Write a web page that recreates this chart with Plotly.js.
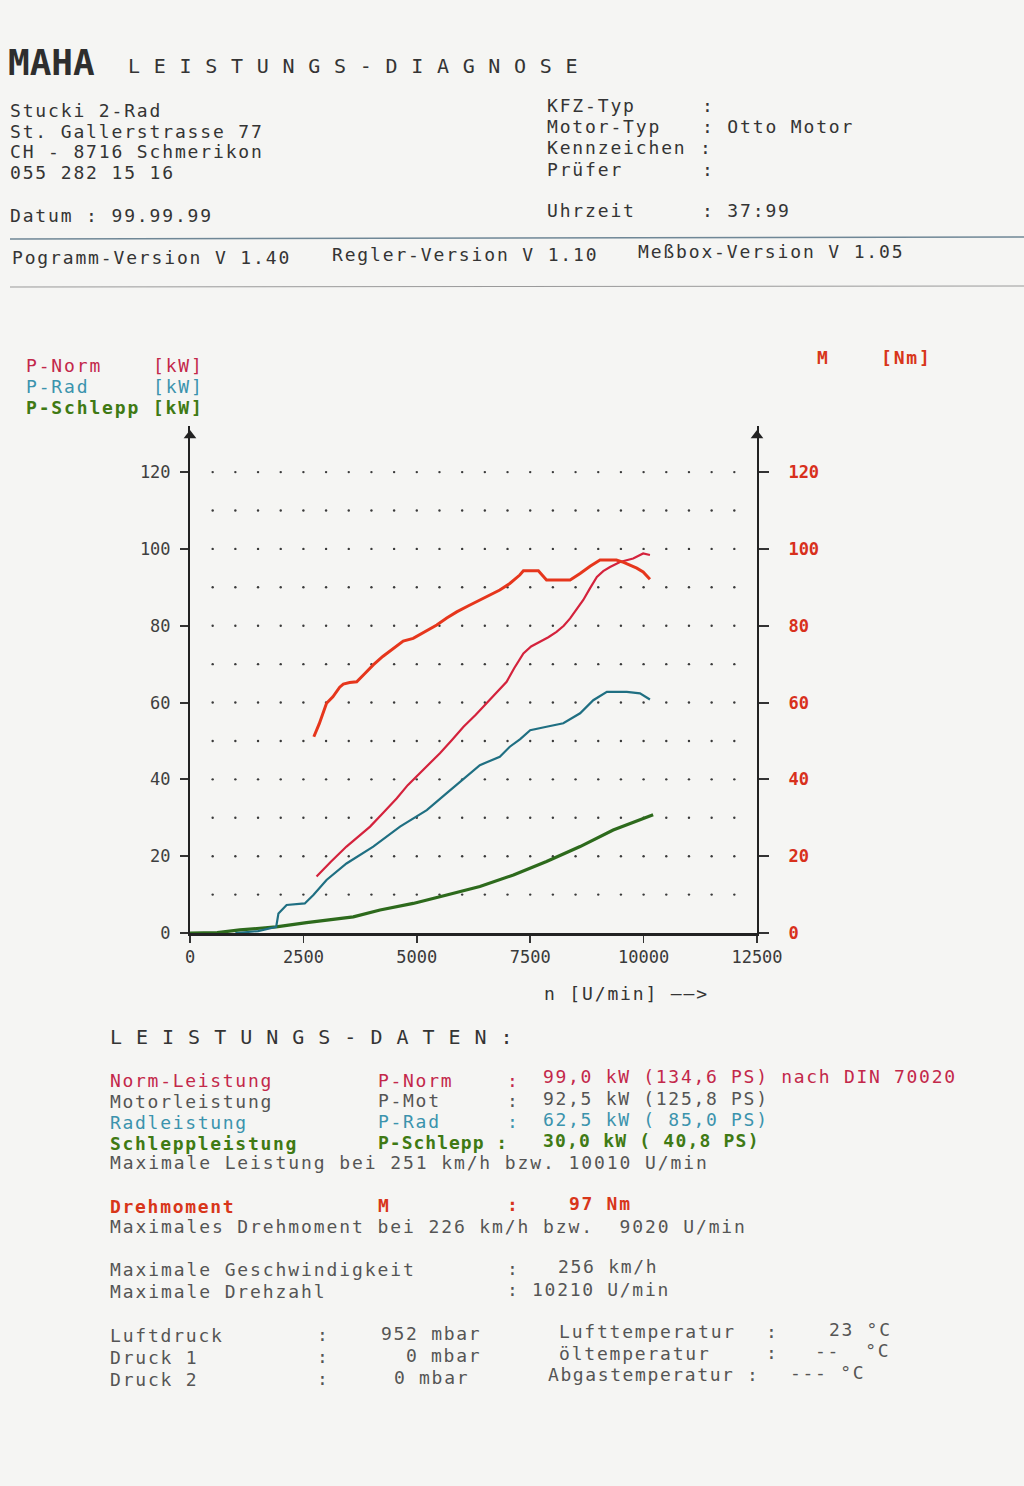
<!DOCTYPE html>
<html>
<head>
<meta charset="utf-8">
<script src="https://cdn.plot.ly/plotly-3.0.1.min.js"></script>
<style>
html,body{margin:0;padding:0;background:#f5f5f3;}
#chart{width:1024px;height:1486px;}
</style>
</head>
<body>
<div id="chart"></div>
<script>
// ---------------- DATA ----------------
var xTicks = [0, 2500, 5000, 7500, 10000, 12500];
var yTicks = [0, 20, 40, 60, 80, 100, 120];

// Torque M [Nm]
var mRpm = [2730, 2850, 3010, 3150, 3300, 3380, 3520, 3675, 3850, 4040, 4250, 4480, 4700, 4920, 5180, 5440, 5660, 5880, 6140, 6390, 6600, 6830, 7050, 7270, 7350, 7680, 7860, 8100, 8380, 8600, 8820, 9040, 9400, 9560, 9700, 9850, 9990, 10140];
var mVal = [51.1, 54.5, 59.8, 61.5, 64.0, 64.8, 65.2, 65.4, 67.5, 69.8, 72.0, 74.1, 76.0, 76.7, 78.5, 80.2, 82.0, 83.6, 85.2, 86.7, 87.8, 89.3, 91.0, 93.2, 94.3, 94.3, 91.9, 91.9, 91.9, 93.6, 95.5, 97.1, 97.1, 96.5, 95.8, 95.0, 94.0, 92.1];

// P-Norm [kW]
var normRpm = [2790, 3100, 3450, 3700, 3970, 4250, 4560, 4800, 5070, 5300, 5510, 5770, 6030, 6300, 6540, 6760, 6980, 7150, 7350, 7520, 7720, 7900, 8080, 8240, 8380, 8520, 8670, 8820, 8970, 9110, 9260, 9480, 9770, 9990, 10140];
var normVal = [14.7, 18.5, 22.5, 25.0, 27.7, 31.2, 35.1, 38.5, 41.6, 44.3, 46.8, 50.2, 53.7, 56.8, 59.8, 62.8, 65.4, 69.0, 72.8, 74.6, 75.8, 77.0, 78.4, 80.0, 81.9, 84.2, 86.7, 89.8, 92.7, 94.2, 95.3, 96.6, 97.5, 98.8, 98.4];

// P-Rad [kW]
var radRpm = [1000, 1500, 1900, 1950, 2130, 2530, 2720, 3010, 3450, 4040, 4630, 5220, 5660, 6100, 6390, 6830, 7050, 7280, 7500, 7860, 8230, 8600, 8890, 9190, 9630, 9920, 10140];
var radVal = [0, 0.5, 1.6, 5.1, 7.3, 7.7, 9.9, 13.8, 18.1, 22.5, 27.7, 32.0, 36.4, 40.7, 43.7, 45.9, 48.5, 50.5, 52.8, 53.7, 54.6, 57.2, 60.6, 62.8, 62.8, 62.4, 60.8];

// P-Schlepp [kW]
var schRpm = [0, 600, 1100, 1900, 2570, 3090, 3600, 4190, 4920, 5660, 6390, 7130, 7860, 8600, 9330, 10210];
var schVal = [0, 0.1, 0.8, 1.6, 2.7, 3.4, 4.2, 6.0, 7.7, 9.9, 12.1, 15.1, 18.6, 22.5, 26.8, 30.8];

// ---------------- STYLE ----------------
var MONO = 'DejaVu Sans Mono, Liberation Mono, monospace';
var C_NORM = '#d4223c', C_RAD = '#1f6f82', C_SCH = '#2d6a1c', C_M = '#e6361c';
var T_NORM = '#c3284a', T_RAD = '#3b93ad', T_SCH = '#3f7a14', T_M = '#d8361a';
var INK = '#343434', GREY = '#555555';

// plot area in page pixels
var PL = 190, PR = 757, PT = 426, PB = 933;
function px2x(px){ return (px - PL) / (PR - PL); }
function py2y(py){ return (PB - py) / (PB - PT); }

var annotations = [];
function T(px, py, text, color, size, spacing, bold){
  var inner = '<span style="letter-spacing:' + spacing + 'px">' + text + '</span>';
  annotations.push({
    xref:'paper', yref:'paper', x:px2x(px), y:py2y(py),
    xanchor:'left', yanchor:'middle', align:'left', showarrow:false,
    text: inner,
    font:{family:MONO, size:size, color:color, weight: bold ? 'bold' : 'normal'}
  });
}
var S = 18, LS = 1.85;

// Logo + title
annotations.push({xref:'paper', yref:'paper', x:px2x(6), y:py2y(62), xanchor:'left', yanchor:'middle',
  showarrow:false, text:'MAHA', font:{family:MONO, size:36, color:'#2e2e2e', weight:'bold'}});
T(126, 66, 'LEISTUNGS-DIAGNOSE', INK, 20, 13.7, false);

// header left
T(8, 111, 'Stucki 2-Rad', INK, S, LS);
T(8, 132, 'St. Gallerstrasse 77', INK, S, LS);
T(8, 152, 'CH - 8716 Schmerikon', INK, S, LS);
T(8, 173, '055 282 15 16', INK, S, LS);
T(8, 215, 'Datum : 99.99.99', INK, S, LS);

// header right
T(545, 105, 'KFZ-Typ', INK, S, LS);      T(700, 105, ':', INK, S, LS);
T(545, 126, 'Motor-Typ', INK, S, LS);    T(700, 126, ': Otto Motor', INK, S, LS);
T(545, 147, 'Kennzeichen', INK, S, LS);  T(698, 147, ':', INK, S, LS);
T(545, 169, 'Prüfer', INK, S, LS);       T(700, 169, ':', INK, S, LS);
T(545, 210, 'Uhrzeit', INK, S, LS);      T(700, 210, ': 37:99', INK, S, LS);

// version line
T(10, 257, 'Pogramm-Version V 1.40', INK, S, LS);
T(330, 254, 'Regler-Version V 1.10', INK, S, LS);
T(636, 251, 'Meßbox-Version V 1.05', INK, S, LS);

// chart legend
T(24, 365, 'P-Norm', T_NORM, S, LS);   T(151, 365, '[kW]', T_NORM, S, LS);
T(24, 386, 'P-Rad', T_RAD, S, LS);     T(151, 386, '[kW]', T_RAD, S, LS);
T(24, 407, 'P-Schlepp [kW]', T_SCH, S, LS, true);
T(815, 357, 'M', T_M, S, LS, true);    T(879, 357, '[Nm]', T_M, S, LS, true);

// x axis title
T(542, 993, 'n [U/min] ——&gt;', INK, S, LS);

// data block
T(108, 1037, 'LEISTUNGS-DATEN:', INK, 20, 14.0, false);

T(108, 1080, 'Norm-Leistung', T_NORM, S, 1.7);
T(376, 1080, 'P-Norm', T_NORM, S, 1.7);
T(505, 1080, ':', T_NORM, S, 1.7);
T(541, 1076, '99,0 kW (134,6 PS) nach DIN 70020', T_NORM, S, 1.7);

T(108, 1101, 'Motorleistung', GREY, S, 1.7);
T(376, 1100, 'P-Mot', GREY, S, 1.7);
T(505, 1100, ':', GREY, S, 1.7);
T(541, 1098, '92,5 kW (125,8 PS)', GREY, S, 1.7);

T(108, 1122, 'Radleistung', T_RAD, S, 1.7);
T(376, 1121, 'P-Rad', T_RAD, S, 1.7);
T(505, 1121, ':', T_RAD, S, 1.7);
T(541, 1119, '62,5 kW ( 85,0 PS)', T_RAD, S, 1.7);

T(108, 1143, 'Schleppleistung', T_SCH, S, 1.7, true);
T(376, 1142, 'P-Schlepp :', T_SCH, S, 1.0, true);
T(541, 1140, '30,0 kW ( 40,8 PS)', T_SCH, S, 1.2, true);

T(108, 1162, 'Maximale Leistung bei 251 km/h bzw. 10010 U/min', GREY, S, 1.9);

T(108, 1206, 'Drehmoment', T_M, S, 1.7, true);
T(376, 1205, 'M', T_M, S, 1.7, true);
T(505, 1204, ':', T_M, S, 1.7, true);
T(567, 1203, '97 Nm', T_M, S, 1.7, true);
T(108, 1226, 'Maximales Drehmoment bei 226 km/h bzw.\u00A0 9020 U/min', GREY, S, 1.9);

T(108, 1269, 'Maximale Geschwindigkeit', GREY, S, 1.9);
T(505, 1268, ':', GREY, S, 1.7);
T(556, 1266, '256 km/h', GREY, S, 1.7);
T(108, 1291, 'Maximale Drehzahl', GREY, S, 1.9);
T(505, 1289, ': 10210 U/min', GREY, S, 1.7);

T(108, 1335, 'Luftdruck', GREY, S, 1.8);
T(315, 1334, ':', GREY, S, 1.7);
T(379, 1333, '952 mbar', GREY, S, 1.7);
T(557, 1331, 'Lufttemperatur', GREY, S, 1.8);
T(764, 1331, ':', GREY, S, 1.7);
T(827, 1329, '23 °C', GREY, S, 1.7);

T(108, 1357, 'Druck 1', GREY, S, 1.8);
T(315, 1356, ':', GREY, S, 1.7);
T(404, 1355, '0 mbar', GREY, S, 1.7);
T(557, 1353, 'öltemperatur', GREY, S, 1.8);
T(764, 1352, ':', GREY, S, 1.7);
T(813, 1350, '--\u00A0 °C', GREY, S, 1.7);

T(108, 1379, 'Druck 2', GREY, S, 1.8);
T(315, 1378, ':', GREY, S, 1.7);
T(392, 1377, '0 mbar', GREY, S, 1.7);
T(546, 1374, 'Abgastemperatur :', GREY, S, 1.6);
T(788, 1372, '--- °C', GREY, S, 1.7);

// decorative grid dots (every 500 rpm / 10 units)
var gx = [], gy = [];
for (var r = 500; r <= 12000; r += 500) {
  for (var v = 10; v <= 120; v += 10) { gx.push(r); gy.push(v); }
}

var traces = [
  {x:gx, y:gy, mode:'markers', type:'scatter', hoverinfo:'skip',
   marker:{size:2.4, color:'#3a3a3a'}, showlegend:false},
  {x:schRpm, y:schVal, mode:'lines', type:'scatter', name:'P-Schlepp',
   line:{color:C_SCH, width:3.2}, showlegend:false},
  {x:radRpm, y:radVal, mode:'lines', type:'scatter', name:'P-Rad',
   line:{color:C_RAD, width:2.2}, showlegend:false},
  {x:normRpm, y:normVal, mode:'lines', type:'scatter', name:'P-Norm',
   line:{color:C_NORM, width:2.2}, showlegend:false},
  {x:mRpm, y:mVal, mode:'lines', type:'scatter', name:'M', yaxis:'y2',
   line:{color:C_M, width:3}, showlegend:false},
  {x:[0], y:[129.5], mode:'markers', type:'scatter', hoverinfo:'skip', cliponaxis:false,
   marker:{symbol:'triangle-up', size:11, color:'#222'}, showlegend:false},
  {x:[12500], y:[129.5], mode:'markers', type:'scatter', hoverinfo:'skip', cliponaxis:false, yaxis:'y2',
   marker:{symbol:'triangle-up', size:11, color:'#222'}, showlegend:false}
];

var shapes = [
  {type:'line', xref:'paper', yref:'paper', x0:px2x(10), x1:px2x(1024), y0:py2y(239), y1:py2y(237),
   line:{color:'#6f8796', width:1.5}},
  {type:'line', xref:'paper', yref:'paper', x0:px2x(10), x1:px2x(1024), y0:py2y(287), y1:py2y(286),
   line:{color:'#9a9a9a', width:1.2}}
];

var layout = {
  width:1024, height:1486,
  margin:{l:PL, r:1024-PR, t:PT, b:1486-PB, pad:0},
  paper_bgcolor:'#f5f5f3', plot_bgcolor:'#f5f5f3',
  showlegend:false,
  xaxis:{range:[0,12500], tickvals:xTicks, ticktext:xTicks.map(String),
    ticks:'outside', ticklen:7, tickwidth:1.5, tickcolor:'#333',
    showline:true, linewidth:3, linecolor:'#222', showgrid:false, zeroline:false,
    tickfont:{family:MONO, size:17, color:'#3a3a3a'}},
  yaxis:{range:[0,132], tickvals:yTicks, ticktext:yTicks.map(String),
    ticks:'outside', ticklen:8, tickwidth:2, tickcolor:'#333',
    showline:true, linewidth:2, linecolor:'#222', showgrid:false, zeroline:false,
    ticklabelstandoff:6,
    tickfont:{family:MONO, size:17, color:'#3f3f3f'}},
  yaxis2:{range:[0,132], tickvals:yTicks, ticktext:yTicks.map(String), overlaying:'y', side:'right',
    ticks:'outside', ticklen:10, tickwidth:2, tickcolor:'#333',
    showline:true, linewidth:2, linecolor:'#222', showgrid:false, zeroline:false,
    ticklabelstandoff:16,
    tickfont:{family:MONO, size:17, color:'#d8301c', weight:'bold'}},
  annotations: annotations,
  shapes: shapes
};

Plotly.newPlot('chart', traces, layout, {staticPlot:true, displayModeBar:false});
</script>
</body>
</html>
